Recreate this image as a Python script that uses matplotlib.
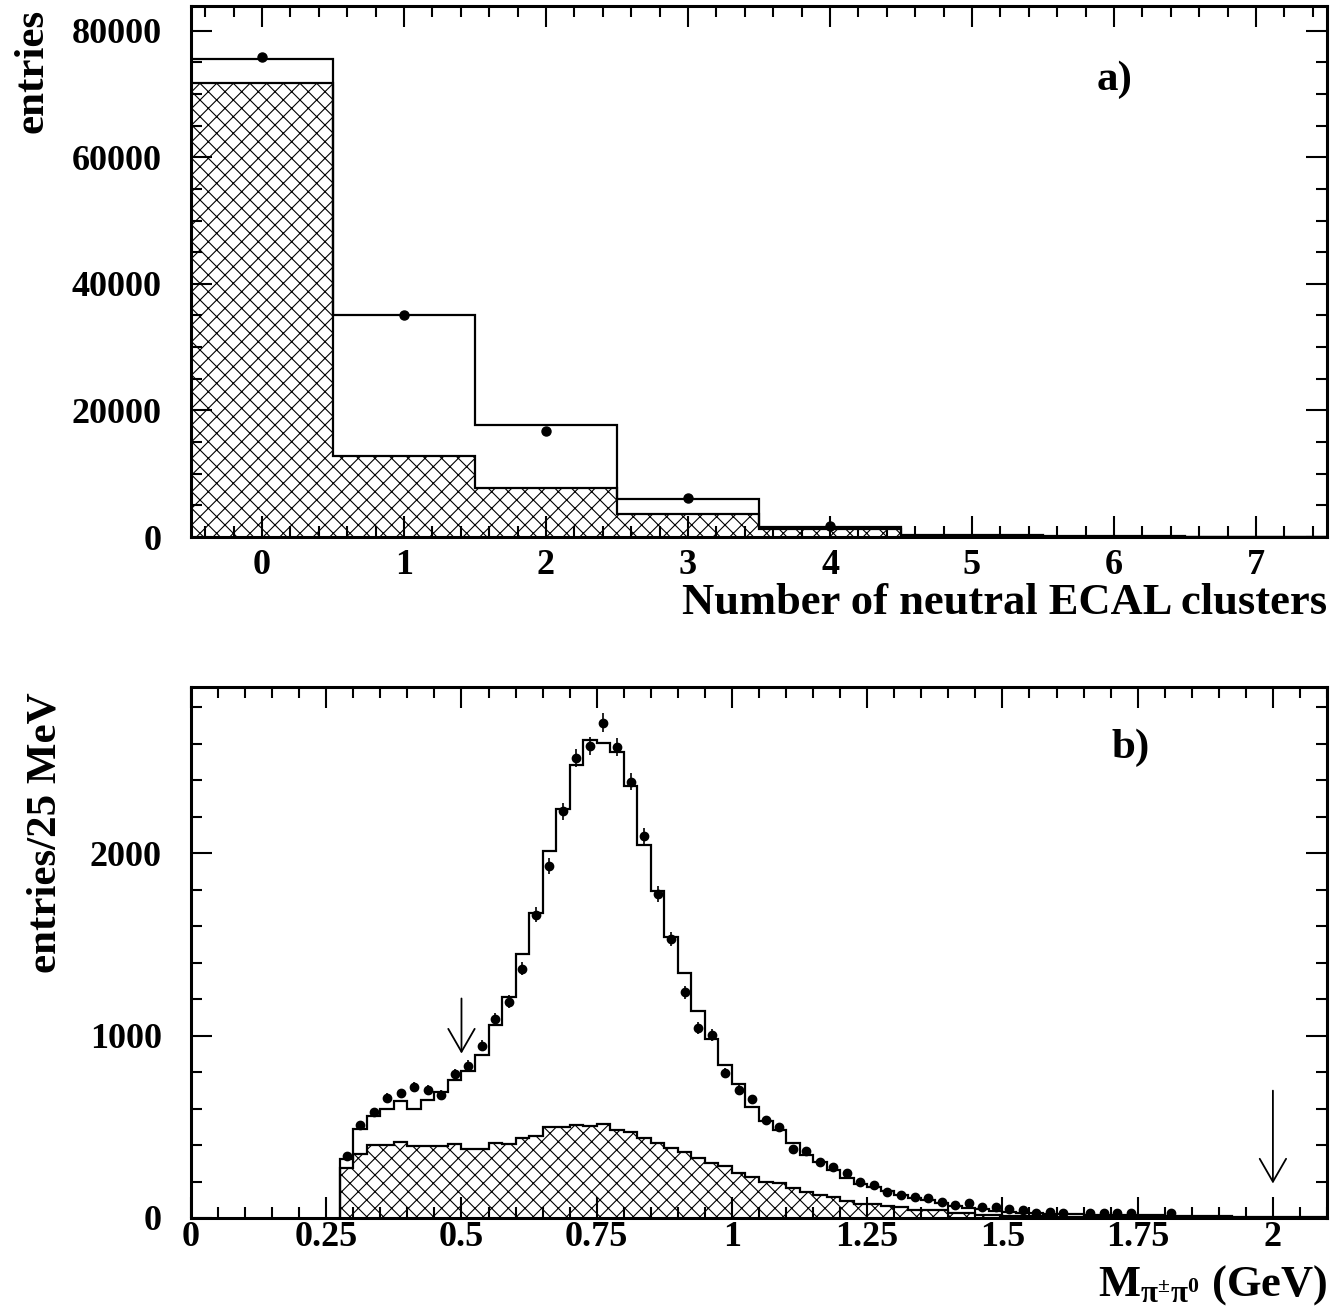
import numpy as np
import matplotlib
matplotlib.use('Agg')
import matplotlib.pyplot as plt
from matplotlib.ticker import MultipleLocator, FuncFormatter

plt.rcParams['font.family'] = ['Liberation Serif', 'DejaVu Serif']
plt.rcParams['font.weight'] = 'bold'
plt.rcParams['mathtext.fontset'] = 'custom'
plt.rcParams['mathtext.rm'] = 'Liberation Serif:bold'
plt.rcParams['mathtext.it'] = 'Liberation Serif:bold'
plt.rcParams['mathtext.bf'] = 'Liberation Serif:bold'
plt.rcParams['mathtext.sf'] = 'Liberation Serif:bold'
plt.rcParams['hatch.linewidth'] = 0.8

nan = np.nan

# ---------------- panel a) : number of neutral ECAL clusters ----------------
a_clusters = [0, 1, 2, 3, 4, 5, 6, 7]
a_data = [75920, 35100, 16760, 6100, 1760, nan, nan, nan]
a_mc = [75470, 35046, 17720, 6000, 1650, 385, 165, 50]
a_bkg = [71790, 12739, 7756, 3567, 1210, 200, 60, 20]
a_xticks = [0, 1, 2, 3, 4, 5, 6, 7]
a_yticks = [0, 20000, 40000, 60000, 80000]

# ---------------- panel b) : M(pi+- pi0), 25 MeV bins from 0.275 GeV ----------------
b_first_edge = 0.275
b_bin_width = 0.025
b_data = [342, 511, 581, 658, 683, 720, 700, 676, 791, 835,
          945, 1088, 1185, 1367, 1661, 1927, 2229, 2520, 2586, 2713,
          2581, 2392, 2092, 1775, 1527, 1238, 1040, 1003, 793, 703,
          650, 535, 498, 380, 365, 305, 278, 247, 196, 180,
          145, 125, 115, 110, 85, 70, 80, 58, 58, 50,
          42, 30, 35, 28, nan, 28, 28, 28, 26, nan,
          nan, 28, nan, nan, nan, nan, nan, nan, nan, nan,
          nan, nan, nan]
b_mc = [322, 487, 557, 597, 639, 597, 648, 690, 754, 804,
        892, 1060, 1211, 1449, 1669, 2009, 2242, 2484, 2621, 2602,
        2553, 2366, 2046, 1793, 1542, 1341, 1137, 980, 838, 733,
        608, 534, 480, 412, 346, 305, 262, 220, 185, 170,
        147, 125, 112, 96, 80, 66, 56, 48, 40, 34,
        29, 25, 23, 21, 20, 19, 18, 17, 16, 15,
        14, 13, 12, 11, 10, 9, 8, 8, 7, 7,
        6, 6, 5]
b_bkg = [276, 352, 401, 401, 419, 397, 397, 397, 405, 377,
         377, 410, 405, 441, 447, 498, 498, 511, 502, 516,
         480, 473, 441, 410, 386, 359, 330, 304, 284, 247,
         224, 198, 190, 165, 140, 127, 113, 94, 77, 75,
         68, 58, 46, 46, 42, 30, 29, 18, 15, 13,
         11, 10, 9, 8, 7, 6, 5, 5, 4, 4,
         3, 3, 3, 2, 2, 2, 2, 1, 1, 1,
         1, 1, 1]
b_xticks = [0, 0.25, 0.5, 0.75, 1, 1.25, 1.5, 1.75, 2]
b_yticks = [0, 1000, 2000]
b_cuts = [0.5, 2.0]
b_arrow_top = [1203, 698]
b_arrow_tip = [901, 189]

W, H = 1344, 1312
fig = plt.figure(figsize=(W / 100, H / 100), dpi=100)

def px_box(left, top, right, bottom):
    return [left / W, 1 - bottom / H, (right - left) / W, (bottom - top) / H]

ax1 = fig.add_axes(px_box(191, 6, 1327, 537))
ax2 = fig.add_axes(px_box(191, 687, 1327, 1218))

TICK_FS = 26
LABEL_FS = 31

def style_axes(ax, xpad):
    for s in ax.spines.values():
        s.set_linewidth(2.2)
    ax.tick_params(which='both', direction='in', top=True, right=True,
                   width=1.5, labelsize=TICK_FS)
    ax.tick_params(which='major', length=15)
    ax.tick_params(which='minor', length=8)
    ax.tick_params(axis='x', pad=xpad)
    ax.tick_params(axis='y', pad=21)
    for lab in ax.get_xticklabels() + ax.get_yticklabels():
        lab.set_fontweight('bold')

# ---- panel a ----
a_edges = np.arange(len(a_clusters) + 1) - 0.5
a_centers = np.asarray(a_clusters, dtype=float)
ax1.stairs(a_bkg, a_edges, fill=True, facecolor='none', edgecolor='black',
           hatch='xx', linewidth=0)
ax1.stairs(a_bkg, a_edges, color='black', linewidth=1.6)
ax1.stairs(a_mc, a_edges, color='black', linewidth=1.6)
a_d = np.asarray(a_data, dtype=float)
ax1.errorbar(a_centers, a_d, yerr=np.sqrt(np.nan_to_num(a_d)), fmt='o',
             color='black', markersize=6.5, elinewidth=1.2, capsize=0, zorder=5)
ax1.set_xlim(-0.5, 7.5)
ax1.set_ylim(0, 83900)
ax1.xaxis.set_major_locator(matplotlib.ticker.FixedLocator(a_xticks))
ax1.xaxis.set_minor_locator(MultipleLocator(0.2))
ax1.yaxis.set_major_locator(matplotlib.ticker.FixedLocator(a_yticks))
ax1.yaxis.set_minor_locator(MultipleLocator(5000))
ax1.xaxis.set_major_formatter(FuncFormatter(lambda v, p: '%d' % v))
ax1.yaxis.set_major_formatter(FuncFormatter(lambda v, p: '%d' % v))
style_axes(ax1, 9)
ax1.text(0.813, 0.861, 'a)', transform=ax1.transAxes, fontsize=LABEL_FS,
         fontweight='bold', ha='center', va='center')

# ---- panel b ----
nb = len(b_mc)
b_edges = np.round(b_first_edge + b_bin_width * np.arange(nb + 1), 4)
b_centers = 0.5 * (b_edges[:-1] + b_edges[1:])
ax2.stairs(b_bkg, b_edges, fill=True, facecolor='none', edgecolor='black',
           hatch='xx', linewidth=0)
ax2.stairs(b_bkg, b_edges, color='black', linewidth=1.6)
ax2.stairs(b_mc, b_edges, color='black', linewidth=1.6)
b_d = np.asarray(b_data, dtype=float)
ax2.errorbar(b_centers, b_d, yerr=np.sqrt(np.nan_to_num(b_d)), fmt='o',
             color='black', markersize=6, elinewidth=1.2, capsize=0, zorder=5)
for xc, yt, yh in zip(b_cuts, b_arrow_top, b_arrow_tip):
    ax2.annotate('', xy=(xc, yh), xytext=(xc, yt),
                 arrowprops=dict(arrowstyle='->,head_length=1.65,head_width=0.95',
                                 lw=1.3, color='black', shrinkA=0, shrinkB=0))
ax2.set_xlim(0, 2.1)
ax2.set_ylim(0, 2910)
ax2.xaxis.set_major_locator(matplotlib.ticker.FixedLocator(b_xticks))
ax2.xaxis.set_minor_locator(MultipleLocator(0.05))
ax2.yaxis.set_major_locator(matplotlib.ticker.FixedLocator(b_yticks))
ax2.yaxis.set_minor_locator(MultipleLocator(200))
ax2.xaxis.set_major_formatter(FuncFormatter(lambda v, p: '%g' % v))
ax2.yaxis.set_major_formatter(FuncFormatter(lambda v, p: '%d' % v))
style_axes(ax2, 2)
ax2.text(0.827, 0.885, 'b)', transform=ax2.transAxes, fontsize=LABEL_FS,
         fontweight='bold', ha='center', va='center')

# axis labels
fig.text(32 / W, 1 - 9 / H, 'entries', rotation=90, ha='center', va='top',
         fontsize=LABEL_FS, fontweight='bold')
fig.text(46 / W, 1 - 692 / H, 'entries/25 MeV', rotation=90, ha='center', va='top',
         fontsize=LABEL_FS, fontweight='bold')
fig.text(1327 / W, 1 - 614 / H, 'Number of neutral ECAL clusters', ha='right',
         va='baseline', fontsize=32, fontweight='bold')
fig.text(1327 / W, 1 - 1296 / H, r'$\mathbf{M_{\pi^{\pm}\pi^{0}}}$ (GeV)', ha='right',
         va='baseline', fontsize=32, fontweight='bold')

fig.savefig('out.png', dpi=100, facecolor='white')
